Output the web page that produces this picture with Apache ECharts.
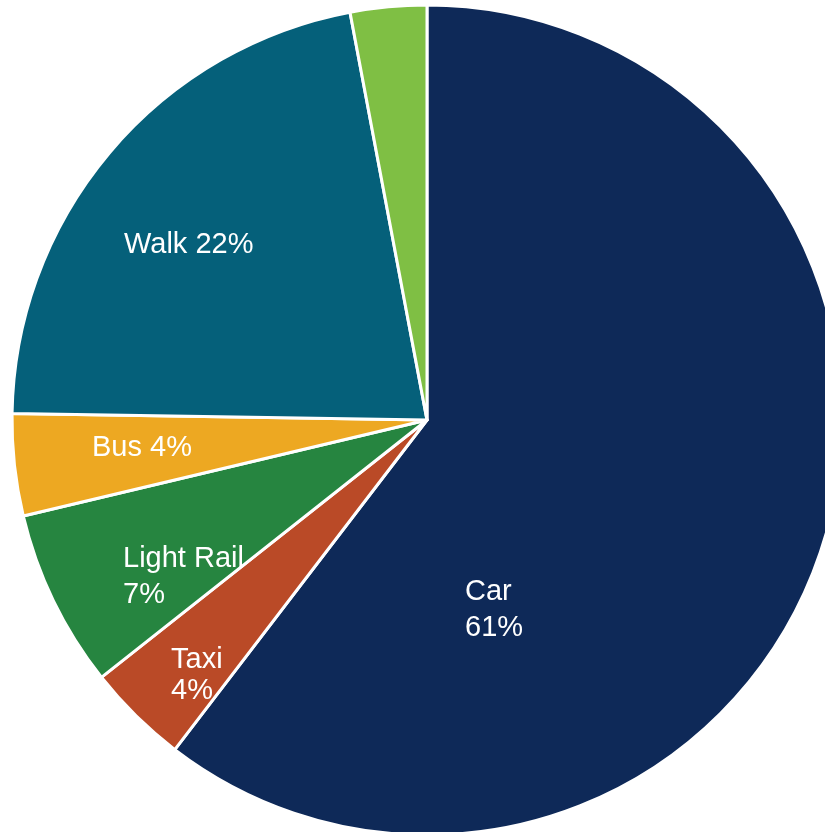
<!DOCTYPE html>
<html>
<head>
<meta charset="utf-8">
<style>
  html, body { margin: 0; padding: 0; background: #ffffff; }
  #chart { width: 825px; height: 832px; }
</style>
<script src="https://cdn.jsdelivr.net/npm/echarts@6/dist/echarts.min.js"></script>
</head>
<body>
<div id="chart"></div>
<script>
// Trip share by travel mode (percent)
const modes = ['Car', 'Taxi', 'Light Rail', 'Bus', 'Walk', 'Bicycle'];
const shares = [61, 4, 7, 4, 22, 3];
const colors = ['#0E2958', '#BA4A27', '#268540', '#EDA822', '#05607A', '#7FBF44'];

// Label placement: anchor (left edge, vertical middle), layout and line height per mode
const labelSpots = {
  'Car':        { x: 465, y: 610, sep: '\n', lh: 36 },
  'Taxi':       { x: 171, y: 675, sep: '\n', lh: 31 },
  'Light Rail': { x: 123, y: 577, sep: '\n', lh: 36 },
  'Bus':        { x: 92,  y: 448, sep: ' ',  lh: 36 },
  'Walk':       { x: 124, y: 245, sep: ' ',  lh: 36 },
  'Bicycle':    null
};

const data = modes.map((name, i) => {
  const spot = labelSpots[name];
  return {
    name: name,
    value: shares[i],
    itemStyle: { color: colors[i] },
    label: spot
      ? { show: true, lineHeight: spot.lh, formatter: '{b}' + spot.sep + '{c}%' }
      : { show: false }
  };
});

const chart = echarts.init(document.getElementById('chart'), null, { renderer: 'canvas' });
chart.setOption({
  animation: false,
  backgroundColor: '#ffffff',
  series: [{
    type: 'pie',
    center: [427, 420],
    radius: 415,
    startAngle: 90,
    clockwise: true,
    avoidLabelOverlap: false,
    itemStyle: { borderColor: '#ffffff', borderWidth: 3 },
    label: {
      position: 'inside',
      color: '#ffffff',
      fontFamily: '"Liberation Sans", Arial, sans-serif',
      fontSize: 29,
      align: 'left'
    },
    labelLine: { show: false },
    emphasis: { disabled: true },
    labelLayout: function (params) {
      const spot = labelSpots[modes[params.dataIndex]];
      if (!spot) return {};
      return { x: spot.x, y: spot.y, align: 'left', verticalAlign: 'middle' };
    },
    data: data
  }]
});
</script>
</body>
</html>
